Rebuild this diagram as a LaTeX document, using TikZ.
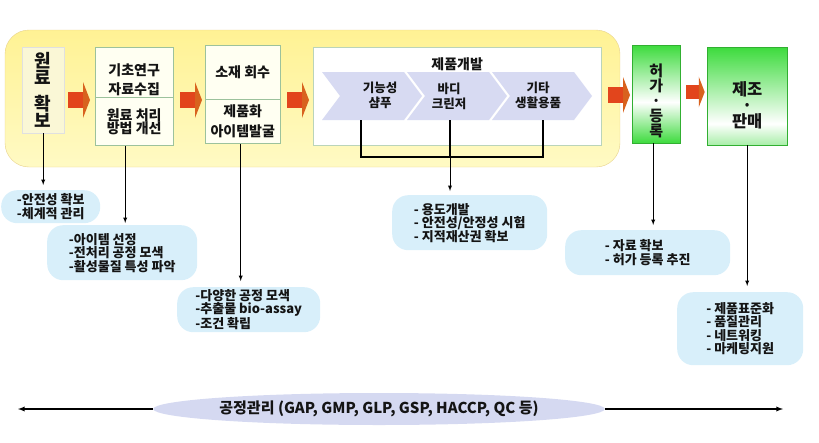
\documentclass[tikz,border=0pt]{standalone}
\usepackage{fontspec}
\setmainfont{Noto Sans CJK KR}
\usepackage{xcolor}
\usetikzlibrary{positioning}
\usetikzlibrary{shapes.geometric}
\definecolor{panelyellow}{HTML}{FFF294}
\definecolor{panellight}{HTML}{FFFAC4}
\definecolor{paneledge}{HTML}{E8D28C}
\definecolor{rawfill}{HTML}{FAF7D6}
\definecolor{stagefill}{HTML}{FFFFF2}
\definecolor{boxedge}{HTML}{9CC29C}
\definecolor{chevblue}{HTML}{D7DAF2}
\definecolor{arrowred}{HTML}{E2451C}
\definecolor{arrowtip}{HTML}{D8621E}
\definecolor{boxgreen}{HTML}{3DDB3D}
\definecolor{palegreen}{HTML}{A8EEA8}
\definecolor{noteblue}{HTML}{D8EFFA}
\definecolor{bandblue}{HTML}{D5D9F1}
\definecolor{inktext}{HTML}{141414}
\pgfdeclareverticalshading{permitshade}{100bp}{color(0bp)=(boxgreen); color(25bp)=(boxgreen); color(46bp)=(white); color(75bp)=(boxgreen); color(100bp)=(boxgreen)}
\pgfdeclareverticalshading{saleshade}{100bp}{color(0bp)=(palegreen); color(25bp)=(palegreen); color(36bp)=(white); color(75bp)=(boxgreen); color(100bp)=(boxgreen)}
\newcommand\lowerby[1]{\rule{0pt}{#1}}
\tikzset{
    panel/.style = {top color=panelyellow, bottom color=panellight, draw=paneledge, rounded corners=24pt},
    stage/.style = {draw=boxedge, fill=stagefill, inner sep=0pt, align=center, text=inktext,
                    font=\bfseries\fontsize{14}{19}\selectfont},
    greenbox/.style = {draw=boxgreen!80!black, shade, inner sep=0pt, align=center, text=inktext},
    chevtext/.style = {align=center, text=inktext, font=\bfseries\fontsize{12.5}{15}\selectfont},
    note/.style = {fill=noteblue, rounded corners=16pt, inner sep=0pt, anchor=north west, align=left,
                   text=inktext, font=\bfseries\fontsize{13}{13.5}\selectfont},
    conn/.style = {-latex, line width=0.9pt, draw=black},
    bigarrow/.pic = {
        \fill[arrowred] (0,-8) rectangle (15,8);
        \fill[arrowtip] (15,-18) -- (22,0) -- (15,18) -- cycle;
    },
}

\begin{document}
\begin{tikzpicture}[x=1pt,y=-1pt]
    \useasboundingbox (0,0) rectangle (819,442);
    % --- yellow panel
    \draw[panel] (5,30) rectangle (620,167);
    % --- stages
    \node[stage, fill=rawfill, draw=black!12, anchor=north west, minimum width=42pt, minimum height=86pt,
          font=\bfseries\fontsize{18}{17}\selectfont] (raw) at (22,47) {원\\료\\[9pt]확\\보};
    \node[stage, anchor=north west, minimum width=78pt, minimum height=50pt] (basic) at (95,47) {};
    \node[align=center, text=inktext, font=\bfseries\fontsize{14}{19}\selectfont] (basictext)
          at ([yshift=-8pt]basic.center) {기초연구\\자료수집};
    \node[stage, below=0pt of basic, minimum width=78pt, minimum height=48pt,
          font=\bfseries\fontsize{14}{13.5}\selectfont] (method) {원료 처리\\방법 개선};
    \node[stage, anchor=north west, minimum width=75pt, minimum height=54pt] (recover) at (205,45) {소재 회수};
    \node[stage, below=0pt of recover, minimum width=75pt, minimum height=44pt,
          font=\bfseries\fontsize{14}{20}\selectfont] (item) {제품화\\아이템발굴};
    \node[stage, fill=white, draw=boxedge!70, anchor=north west, minimum width=288pt, minimum height=98pt] (develop) at (313,47) {};
    \node[chevtext, font=\bfseries\fontsize{14}{14}\selectfont, below=7pt of develop.north] (devtitle) {제품개발};
    % --- chevrons
    \foreach \lx in {322,407,492}
        \fill[chevblue] (\lx,72) -- (\lx+82,72) -- (\lx+100,96) -- (\lx+82,120) -- (\lx,120) -- (\lx+18,96) -- cycle;
    \node[chevtext] (shampoo) at (380,95) {기능성\\샴푸};
    \node[chevtext] (cleanser) at (449,96) {바디\\크린저};
    \node[chevtext] (goods) at (538,95) {기타\\생활용품};
    \coordinate (drop1) at (361,120);
    \coordinate (drop2) at (450,120);
    \coordinate (drop3) at (543,120);
    \coordinate (hub) at (450,157);
    % --- permit and sale
    \node[greenbox, shading=permitshade, anchor=north west, minimum width=48pt, minimum height=98pt,
          font=\bfseries\fontsize{15}{15}\selectfont] (permit) at (632,45) {\lowerby{26pt}허\\가\\·\\등\\록};
    \node[greenbox, shading=saleshade, anchor=north west, minimum width=80pt, minimum height=98pt,
          font=\bfseries\fontsize{16.5}{16}\selectfont] (sale) at (707,47) {\lowerby{32pt}제조\\·\\판매};
    % --- block arrows
    \pic at (68,100) {bigarrow};
    \pic at (180,100) {bigarrow};
    \pic at (287,100) {bigarrow};
    \pic at (608,95) {bigarrow};
    \pic[scale=0.85] at (686,92) {bigarrow};
    % --- notes
    \node[note, minimum width=99pt, minimum height=33pt] (n1) at (1,190) {-안전성 확보\\-체계적 관리};
    \node[note, minimum width=150pt, minimum height=55pt] (n2) at (47,225) {-아이템 선정\\-전처리 공정 모색\\-활성물질 특성 파악};
    \node[note, minimum width=143pt, minimum height=45pt] (n3) at (177,287) {-다양한 공정 모색\\-추출물 bio-assay\\-조건 확립};
    \node[note, minimum width=155pt, minimum height=55pt] (n4) at (392,195) {- 용도개발\\- 안전성/안정성 시험\\- 지적재산권 확보};
    \node[note, minimum width=165pt, minimum height=45pt] (n5) at (565,230) {- 자료 확보\\- 허가 등록 추진};
    \node[note, minimum width=126pt, minimum height=73pt] (n6) at (677,292) {- 제품표준화\\- 품질관리\\- 네트워킹\\- 마케팅지원};
    % --- connectors
    \draw[conn, shorten >=5pt] (raw.south) -- (raw.south |- n1.north);
    \draw[conn, shorten >=2pt] ([xshift=-9pt]method.south) -- ([xshift=-9pt]method.south |- n2.north);
    \draw[conn, shorten >=6pt] ([xshift=-2pt]item.south) -- ([xshift=-2pt]item.south |- n3.north);
    \draw[line width=1.6pt] (drop1) -- (drop1 |- hub) -- (drop3 |- hub) -- (drop3);
    \draw[line width=1.6pt] (drop2) -- (hub);
    \draw[conn, shorten >=4pt] (hub) -- (hub |- n4.north);
    \draw[conn, shorten >=5pt] ([xshift=-3pt]permit.south) -- ([xshift=-3pt]permit.south |- n5.north);
    \draw[conn, shorten >=6pt] (sale.south) -- (sale.south |- n6.north);
    % --- process control band
    \node[ellipse, fill=bandblue, minimum width=442pt, minimum height=32pt, inner sep=0pt, text=inktext,
          font=\bfseries\fontsize{15}{16}\selectfont] (band) at (379,409) {공정관리 (GAP, GMP, GLP, GSP, HACCP, QC 등)};
    \coordinate (leftend) at (18,409);
    \coordinate (rightend) at (783,409);
    \draw[conn, line width=1.3pt] (band.west) -- (leftend);
    \draw[conn, line width=1.3pt] (band.east) -- (rightend);
\end{tikzpicture}
\end{document}
